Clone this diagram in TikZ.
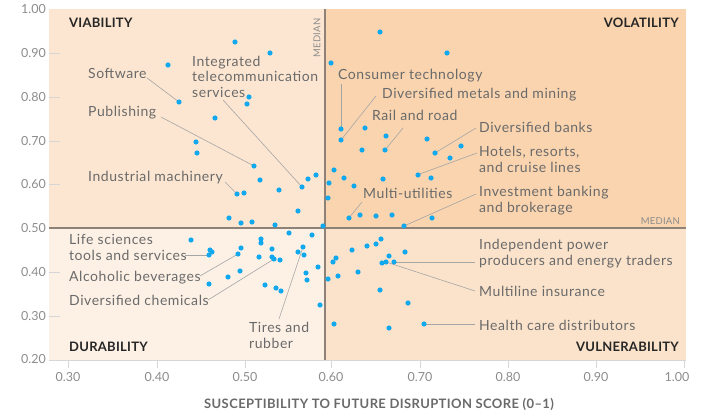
\documentclass[tikz,border=0pt]{standalone}
\usepackage{fontspec}
\setmainfont{Lato}
\newfontfamily\labfont[LetterSpace=4]{Lato}
\newfontfamily\titfont[LetterSpace=3]{Lato}
\newfontfamily\quadfont[LetterSpace=2]{Lato}
\definecolor{qvia}{HTML}{FCE6D1}
\definecolor{qvol}{HTML}{F9D4AF}
\definecolor{qdur}{HTML}{FDF1E6}
\definecolor{qvul}{HTML}{FBE3CB}
\definecolor{dotblue}{HTML}{12A8EE}
\definecolor{lbl}{HTML}{6A6A6A}
\definecolor{dark}{HTML}{262626}
\definecolor{medline}{HTML}{8E8178}
\definecolor{leadc}{HTML}{A5A5A5}
\definecolor{tickc}{HTML}{8C8C8C}
\definecolor{axc}{HTML}{D6D6D6}
\begin{document}
\begin{tikzpicture}[x=1pt,y=-1pt,
  dot/.style={circle,fill=dotblue,inner sep=0pt,minimum size=5.2pt},
  lab/.style={anchor=west,inner sep=0pt,text=lbl,align=left,font=\labfont\fontsize{14}{15.5}\selectfont},
  quad/.style={inner sep=0pt,text=dark,font=\quadfont\fontsize{13}{15}\selectfont\bfseries},
  lead/.style={draw=leadc,line width=0.6pt},
  tlab/.style={inner sep=0pt,text=tickc,font=\fontsize{12.5}{14}\selectfont},
  medlab/.style={inner sep=0pt,text=tickc,font=\quadfont\fontsize{9.5}{10}\selectfont},
  tickm/.style={draw=axc,line width=0.8pt}]
\useasboundingbox (0,0) rectangle (702,412);
% quadrants
\fill[qvia] (49,9.5) rectangle (325,228);
\fill[qvol] (325,9.5) rectangle (686,228);
\fill[qdur] (49,228) rectangle (325,360);
\fill[qvul] (325,228) rectangle (686,360);
% y ticks
\foreach \v/\y in {1.00/9.5,0.90/53,0.80/97,0.70/141,0.60/184.5,0.50/228,0.40/272,0.30/316,0.20/359.5}{
  \node[tlab,anchor=east] (yl\v) at (46,\y) {\v};
}
\foreach \y in {53,97,141,184.5,272,316}{
  \draw[tickm] (49,\y) -- (60,\y);
}
% x axis
\draw[axc,line width=1pt] (49,360) -- (686,360);
\foreach \v/\x in {0.30/68,0.40/157,0.50/245,0.60/331,0.70/420,0.80/508,0.90/596}{
  \draw[tickm] (\x,361) -- (\x,368);
  \node[tlab] (xl\v) at (\x,377) {\v};
}
\draw[tickm] (684,361) -- (684,368);
\node[tlab] (xl100) at (677,377) {1.00};
\node[inner sep=0pt,text=lbl,font=\titfont\fontsize{13}{15}\selectfont\bfseries] (xtitle) at (379,404) {SUSCEPTIBILITY TO FUTURE DISRUPTION SCORE (0–1)};
% medians
\draw[medline,line width=1.2pt] (49,228) -- (686,228);
\draw[medline,line width=1.2pt] (325,9.5) -- (325,360);
\node[medlab,anchor=east] (medh) at (680,221) {MEDIAN};
\node[medlab,rotate=90] (medv) at (317,38) {MEDIAN};
% quadrant labels
\node[quad,anchor=west] (qa) at (69,23) {VIABILITY};
\node[quad,anchor=east] (qb) at (679,23) {VOLATILITY};
\node[quad,anchor=west] (qc) at (69,347) {DURABILITY};
\node[quad,anchor=east] (qd) at (679,347) {VULNERABILITY};
% labels
\node[lab] (lsoft) at (88,73) {Software};
\node[lab] (ltel) at (192,76.5) {Integrated\\telecommunication\\services};
\node[lab] (lpub) at (88,113) {Publishing};
\node[lab] (lind) at (88,178) {Industrial machinery};
\node[lab] (llife) at (69,247.5) {Life sciences\\tools and services};
\node[lab] (lalc) at (69,278) {Alcoholic beverages};
\node[lab] (lchem) at (69,300) {Diversified chemicals};
\node[lab] (ltire) at (249,335.5) {Tires and\\rubber};
\node[lab] (lcons) at (338,76) {Consumer technology};
\node[lab] (lmet) at (382,95) {Diversified metals and mining};
\node[lab] (lrail) at (372,115) {Rail and road};
\node[lab] (lbank) at (479,127) {Diversified banks};
\node[lab] (lhot) at (479,159.5) {Hotels, resorts,\\and cruise lines};
\node[lab] (lmu) at (363,193) {Multi-utilities};
\node[lab] (linv) at (479,200.5) {Investment banking\\and brokerage};
\node[lab] (lipp) at (479,253.5) {Independent power\\producers and energy traders};
\node[lab] (lmli) at (479,291) {Multiline insurance};
\node[lab] (lhc) at (479,325) {Health care distributors};
% leader targets
\coordinate (dsoft) at (179,102);
\coordinate (dtel) at (302,187);
\coordinate (dpub) at (254,166);
\coordinate (dind) at (237,194);
\coordinate (dlife) at (209,255);
\coordinate (dalc) at (238,254);
\coordinate (dchem) at (274,259);
\coordinate (dtire) at (303,247);
\coordinate (dcons) at (341,129);
\coordinate (dmet) at (341,140);
\coordinate (drail) at (385,150);
\coordinate (dbank) at (435,153);
\coordinate (dhot) at (417,175);
\coordinate (dmu) at (349,218);
\coordinate (dinv) at (404,226);
\coordinate (dipp) at (394,262);
\coordinate (dmli) at (386,262);
\coordinate (dhc) at (424,324);
% leader starts
\coordinate (ssoft) at (147,78);
\coordinate (stel) at (223,100);
\coordinate (spub) at (161,117);
\coordinate (sind) at (225,182);
\coordinate (slife) at (185,255);
\coordinate (salc) at (200,276);
\coordinate (schem) at (208,300);
\coordinate (stire) at (279,319);
\coordinate (scons) at (341,84);
\coordinate (smet) at (376,96);
\coordinate (srail) at (403,128);
\coordinate (sbank) at (476,128);
\coordinate (shot) at (477,153);
\coordinate (smu) at (362,202);
\coordinate (sinv) at (476,194);
\coordinate (sipp) at (475,262);
\coordinate (smli) at (475,291);
\coordinate (shc) at (475,324);
\foreach \n in {soft,tel,pub,ind,life,alc,chem,tire,cons,met,rail,bank,hot,mu,inv,ipp,mli,hc}{
  \draw[lead] (s\n) -- (d\n);
}
% dots
\foreach \x/\y [count=\i] in {
 235/42,270/53,168/65,179/102,249/97,247/104,215/118,196/142,197/153,254/166,
 260/180,279/190,237/194,244/193,302/187,308/179,316/175,298/211,229/218,241/223,
 252/222,275/225,323/226,
 380/32,447/53,331/63,341/129,365/128,386/136,341/140,362/150,385/150,427/139,
 461/146,435/153,450/158,334/170,329/183,344/178,354/186,383/179,418/175,431/178,
 328/198,349/218,360/215,376/216,392/215,432/218,404/226,
 289/233,312/235,191/240,261/239,261/243,272/249,303/247,298/252,304/255,210/250,
 212/252,209/255,241/248,238/254,259/257,272/257,274/259,280/260,318/267,306/273,
 307/280,228/277,240/271,209/284,265/285,276/288,281/291,320/305,
 328/279,338/276,333/262,336/258,352/250,367/246,376/244,381/239,405/252,389/256,
 382/263,386/262,394/262,358/272,380/290,408/303,334/324,389/328,424/324}{
  \node[dot] (p\i) at (\x,\y) {};
}
\end{tikzpicture}
\end{document}
